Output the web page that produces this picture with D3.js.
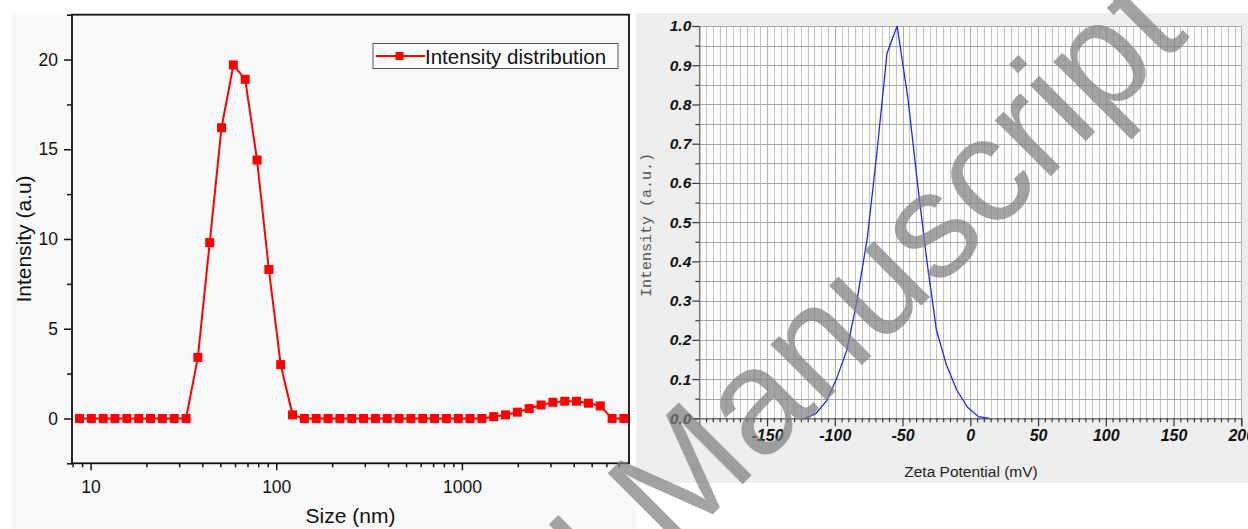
<!DOCTYPE html>
<html>
<head>
<meta charset="utf-8">
<script src="https://cdn.jsdelivr.net/npm/d3@7"></script>
<style>
  html, body { margin: 0; padding: 0; background: #ffffff; }
  svg { display: block; }
  text { font-family: "Liberation Sans", Arial, sans-serif; }
</style>
</head>
<body>
<svg id="chart" width="1248" height="529"></svg>
<script>
// ---------- Data: left panel (DLS size distribution) ----------
const sizeNm = [8.721, 10.1, 11.7, 13.54, 15.69, 18.17, 21.04, 24.36, 28.21, 32.67,
  37.84, 43.82, 50.75, 58.77, 68.06, 78.82, 91.28, 105.7, 122.4, 141.8,
  164.2, 190.1, 220.2, 255.0, 295.3, 342.0, 396.1, 458.7, 531.2, 615.1,
  712.4, 825.0, 955.4, 1106, 1281, 1484, 1718, 1990, 2305, 2669,
  3091, 3580, 4145, 4801, 5560, 6439, 7456];
const intensity = [0, 0, 0, 0, 0, 0, 0, 0, 0, 0,
  3.4, 9.8, 16.2, 19.7, 18.9, 14.4, 8.3, 3.0, 0.2, 0,
  0, 0, 0, 0, 0, 0, 0, 0, 0, 0,
  0, 0, 0, 0, 0, 0.1, 0.2, 0.35, 0.55, 0.75,
  0.9, 0.96, 0.96, 0.85, 0.7, 0, 0];
const sizeMajorTicks = [10, 100, 1000];
const sizeMinorTicks = [8, 9, 20, 30, 40, 50, 60, 70, 80, 90, 200, 300, 400, 500, 600, 700, 800, 900,
  2000, 3000, 4000, 5000, 6000, 7000];
const intensityMajorTicks = [0, 5, 10, 15, 20];
const intensityMinorTicks = [-2.5, 2.5, 7.5, 12.5, 17.5, 22.5];
const seriesName = "Intensity distribution";

// ---------- Data: right panel (zeta potential) ----------
const zetaMv = [-122, -114, -106, -99, -91, -84, -76, -69, -61.5, -54, -46, -39, -32, -25, -17.5, -10, -2, 6, 14];
const zetaIntensity = [0, 0.012, 0.045, 0.098, 0.175, 0.293, 0.46, 0.675, 0.93, 1.0, 0.815, 0.6, 0.4, 0.225, 0.135, 0.072, 0.028, 0.004, 0];
const zetaLabelTicks = [-150, -100, -50, 0, 50, 100, 150, 200];
const zetaYTicks = [0, 0.1, 0.2, 0.3, 0.4, 0.5, 0.6, 0.7, 0.8, 0.9, 1.0];

const svg = d3.select("#chart");

// ================= LEFT PANEL =================
svg.append("rect").attr("x", 12).attr("y", 13).attr("width", 618).attr("height", 516).attr("fill", "#f9f9f9");
svg.append("rect").attr("x", 629).attr("y", 483).attr("width", 7).attr("height", 46).attr("fill", "#f9f9f9");

const L = {left: 72, right: 629, top: 14.7, bottom: 463.3};
const xL = d3.scaleLog().domain([Math.pow(10, 0.9), Math.pow(10, 3.9)]).range([L.left, L.right]);
const yL = d3.scaleLinear().domain([-2.5, 22.5]).range([L.bottom, L.top]);

// axes
const gLy = svg.append("g").attr("transform", `translate(${L.left},0)`)
  .call(d3.axisLeft(yL).tickValues(intensityMajorTicks).tickSize(8).tickPadding(6).tickFormat(d3.format("d")));
const gLyMinor = svg.append("g").attr("transform", `translate(${L.left},0)`)
  .call(d3.axisLeft(yL).tickValues(intensityMinorTicks).tickSize(5).tickFormat(""));
const gLx = svg.append("g").attr("transform", `translate(0,${L.bottom})`)
  .call(d3.axisBottom(xL).tickValues(sizeMajorTicks).tickSize(7).tickPadding(10).tickFormat(d3.format("d")));
const gLxMinor = svg.append("g").attr("transform", `translate(0,${L.bottom})`)
  .call(d3.axisBottom(xL).tickValues(sizeMinorTicks).tickSize(4).tickFormat(""));
[gLy, gLyMinor, gLx, gLxMinor].forEach(g => {
  g.select(".domain").remove();
  g.selectAll(".tick line").attr("stroke", "#111").attr("stroke-width", 1.5);
  g.selectAll(".tick text").attr("fill", "#111").style("font-size", "17.5px")
    .style("font-family", '"Liberation Sans", Arial, sans-serif');
});
// frame
svg.append("rect").attr("x", L.left).attr("y", L.top).attr("width", L.right - L.left).attr("height", L.bottom - L.top)
  .attr("fill", "none").attr("stroke", "#111").attr("stroke-width", 1.8);

// series
const ptsL = sizeNm.map((s, i) => [s, intensity[i]]);
svg.append("path").datum(ptsL)
  .attr("fill", "none").attr("stroke", "#ff0000").attr("stroke-width", 2)
  .attr("d", d3.line().x(d => xL(d[0])).y(d => yL(d[1])));
svg.append("g").selectAll("rect").data(ptsL).join("rect")
  .attr("x", d => xL(d[0]) - 4.5).attr("y", d => yL(d[1]) - 4.5)
  .attr("width", 9).attr("height", 9).attr("fill", "#ff0000");

// legend
svg.append("rect").attr("x", 373).attr("y", 43.5).attr("width", 245).attr("height", 25)
  .attr("fill", "#fbfbfb").attr("stroke", "#555").attr("stroke-width", 1);
svg.append("line").attr("x1", 376).attr("x2", 425).attr("y1", 56).attr("y2", 56)
  .attr("stroke", "#ff0000").attr("stroke-width", 2);
svg.append("rect").attr("x", 395.5).attr("y", 52).attr("width", 8).attr("height", 8).attr("fill", "#ff0000");
svg.append("text").attr("x", 425).attr("y", 64).text(seriesName)
  .style("font-size", "20.5px").attr("fill", "#111");

// titles
svg.append("text").attr("x", 350.5).attr("y", 523).attr("text-anchor", "middle")
  .style("font-size", "21px").attr("fill", "#111").text("Size (nm)");
svg.append("text").attr("transform", "translate(31,239) rotate(-90)").attr("text-anchor", "middle")
  .style("font-size", "21px").attr("fill", "#111").text("Intensity (a.u)");

// ================= RIGHT PANEL =================
svg.append("rect").attr("x", 636).attr("y", 13).attr("width", 612).attr("height", 470).attr("fill", "#eeeeee");

const R = {left: 699.3, right: 1241.3, top: 26, bottom: 418.3};
const xR = d3.scaleLinear().domain([-200, 200]).range([R.left, R.right]);
const yR = d3.scaleLinear().domain([0, 1]).range([R.bottom, R.top]);

svg.append("rect").attr("x", R.left).attr("y", R.top).attr("width", R.right - R.left).attr("height", R.bottom - R.top)
  .attr("fill", "#ffffff");

// grid
const vGrid = d3.range(-200, 201, 5);
const hGrid = d3.range(0, 21).map(i => i * 0.05);
svg.append("g").selectAll("line").data(vGrid).join("line")
  .attr("x1", d => Math.round(xR(d)) + 0.5).attr("x2", d => Math.round(xR(d)) + 0.5)
  .attr("y1", R.top).attr("y2", R.bottom)
  .attr("stroke", d => d % 50 === 0 ? "#b0b0b0" : "#c4c4c4").attr("stroke-width", 1);
svg.append("g").selectAll("line").data(hGrid).join("line")
  .attr("x1", R.left).attr("x2", R.right)
  .attr("y1", d => Math.round(yR(d)) + 0.5).attr("y2", d => Math.round(yR(d)) + 0.5)
  .attr("stroke", "#a8a8a8").attr("stroke-width", 1);

// axes
const gRy = svg.append("g").attr("transform", `translate(${R.left},0)`)
  .call(d3.axisLeft(yR).tickValues(zetaYTicks).tickSize(7).tickPadding(1).tickFormat(d3.format(".1f")));
const gRyMinor = svg.append("g").attr("transform", `translate(${R.left},0)`)
  .call(d3.axisLeft(yR).tickValues(d3.range(0, 10).map(i => i * 0.1 + 0.05)).tickSize(4).tickFormat(""));
const gRx = svg.append("g").attr("transform", `translate(0,${R.bottom})`)
  .call(d3.axisBottom(xR).tickValues(zetaLabelTicks).tickSize(8).tickPadding(3).tickFormat(d => String(d)));
const gRxMinor = svg.append("g").attr("transform", `translate(0,${R.bottom})`)
  .call(d3.axisBottom(xR).tickValues(vGrid.filter(d => d % 50 !== 0)).tickSize(4).tickFormat(""));
[gRy, gRyMinor, gRx, gRxMinor].forEach(g => {
  g.select(".domain").attr("stroke", "#666").attr("stroke-width", 1.2);
  g.selectAll(".tick line").attr("stroke", "#333").attr("stroke-width", 1.2);
  g.selectAll(".tick text").attr("fill", "#111")
    .style("font-weight", "bold").style("font-style", "italic")
    .style("font-family", '"Liberation Sans", Arial, sans-serif');
});
gRy.selectAll(".tick text").style("font-size", "15.5px");
gRx.selectAll(".tick text").style("font-size", "16px");
gRyMinor.select(".domain").remove();
gRxMinor.select(".domain").remove();

// zeta curve
svg.append("path").datum(zetaMv.map((v, i) => [v, zetaIntensity[i]]))
  .attr("fill", "none").attr("stroke", "#2424ff").attr("stroke-width", 1.3)
  .attr("d", d3.line().x(d => xR(d[0])).y(d => yR(d[1])));

// titles
svg.append("text").attr("x", 971).attr("y", 476.5).attr("text-anchor", "middle")
  .style("font-size", "15.5px").attr("fill", "#222").text("Zeta Potential (mV)");
svg.append("text").attr("transform", "translate(651,225) rotate(-90)").attr("text-anchor", "middle")
  .style("font-size", "15px").style("font-family", '"Liberation Mono", "Courier New", monospace')
  .attr("fill", "#555").text("Intensity (a.u.)");

// ================= WATERMARK =================
const wm = svg.append("g").attr("transform", "translate(672,555) rotate(-45)")
  .attr("fill", "#808080").attr("fill-opacity", 0.72)
  .style("font-family", '"Liberation Sans", Arial, sans-serif').style("font-size", "150px");
wm.append("text").attr("x", 0).attr("y", 0).text("Manuscript");
wm.append("text").attr("x", -42).attr("y", 0).attr("text-anchor", "end").text("Accepted");
</script>
</body>
</html>
